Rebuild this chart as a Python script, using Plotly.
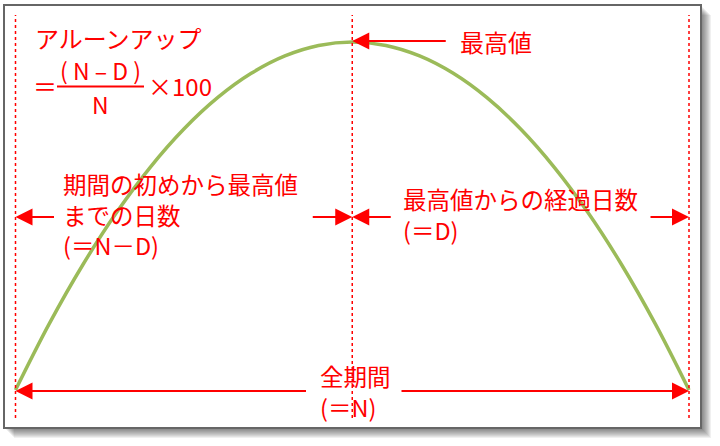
import plotly.graph_objects as go

# ---- data ----
days = list(range(0, 21))
values = [0, 19, 36, 51, 64, 75, 84, 91, 96, 99, 100, 99, 96, 91, 84, 75, 64, 51, 36, 19, 0]
period_start = 0
peak_day = 10
period_end = 20

W, H = 720, 446
RED = "#FF0000"
FONT = "Noto Sans CJK JP"

def px(x):
    return x / W

def py(y):
    return 1 - y / H

fig = go.Figure()
fig.add_trace(go.Scatter(x=days, y=values, mode="lines",
                         line=dict(color="#9BBB59", width=3.5, shape="spline"),
                         hoverinfo="skip", showlegend=False))

shapes = []
# shadow
for d in range(1, 11):
    shapes.append(dict(type="rect", xref="paper", yref="paper",
                       x0=px(4 + d), x1=px(701 + d), y0=py(428 + d), y1=py(5 + d),
                       line=dict(width=0), fillcolor="rgba(0,0,0,0.06)", layer="below"))
# box
shapes.append(dict(type="rect", xref="paper", yref="paper",
                   x0=px(4), x1=px(701), y0=py(428), y1=py(5),
                   line=dict(color="#666666", width=2), fillcolor="white", layer="below"))
# dotted verticals
for d in (period_start, peak_day, period_end):
    shapes.append(dict(type="line", xref="x", yref="paper", x0=d, x1=d,
                       y0=py(418), y1=py(15),
                       line=dict(color=RED, width=1.5, dash="dot")))
# fraction line
shapes.append(dict(type="line", xref="paper", yref="paper",
                   x0=px(57), x1=px(144), y0=py(86.5), y1=py(86.5),
                   line=dict(color=RED, width=2)))

ann = []

def arrow(xd, ypix, ax):
    ann.append(dict(x=xd, y=py(ypix), xref="x", yref="paper", text="",
                    showarrow=True, ax=ax, ay=0, arrowhead=2, arrowsize=1.7,
                    arrowwidth=2, arrowcolor=RED, standoff=0, startstandoff=0))

def txt(s, x, y, anchor="left", size=24):
    ann.append(dict(x=px(x), y=py(y), xref="paper", yref="paper", text=s,
                    showarrow=False, xanchor=anchor, yanchor="middle", align="left",
                    font=dict(family=FONT, size=size, color=RED)))

# peak arrow
arrow(peak_day, 41, 95)
# middle arrows
arrow(period_start, 217, 40)
arrow(peak_day, 217, -41)
arrow(peak_day, 217, 40)
arrow(period_end, 217, -40)
# bottom arrows
arrow(period_start, 391, 292)
arrow(period_end, 391, -289)

txt("最高値", 458, 41)
txt("アルーンアップ", 33, 37)
txt("＝", 31, 85)
txt("( N – D )", 100, 70, "center", size=23)
txt("N", 100, 104, "center", size=23)
txt("×100", 146, 85)
txt("期間の初めから最高値<br>までの日数<br>(＝N－D)", 61, 215, size=23.5)
txt("最高値からの経過日数<br>(＝D)", 401, 215, size=23.5)
txt("全期間<br>(＝N)", 355, 391, "center", size=23.5)

x_scale = (689 - 15.5) / 20
y_scale = (390 - 42) / 100
fig.update_layout(
    width=W, height=H, margin=dict(l=0, r=0, t=0, b=0),
    paper_bgcolor="white", plot_bgcolor="rgba(0,0,0,0)",
    xaxis=dict(range=[-15.5 / x_scale, 20 + (W - 689) / x_scale], visible=False, fixedrange=True),
    yaxis=dict(range=[-(H - 390) / y_scale, 100 + 42 / y_scale], visible=False, fixedrange=True),
    shapes=shapes, annotations=ann, showlegend=False,
)
fig.write_html("out.html", config={"displayModeBar": False},
               post_script="document.body.style.margin='0px';document.body.style.overflow='hidden';")
